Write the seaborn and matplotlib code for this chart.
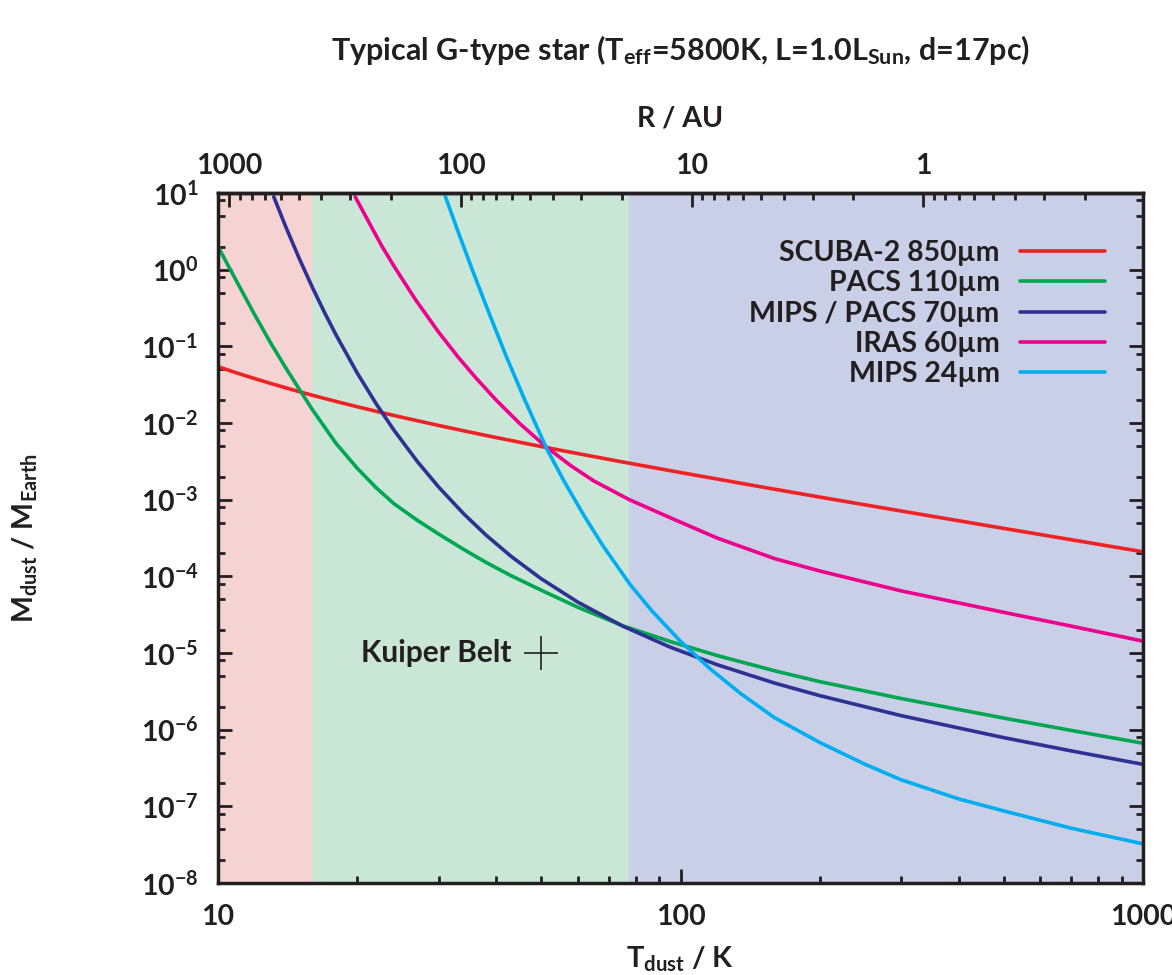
import numpy as np
import matplotlib
matplotlib.use("Agg")
import matplotlib.pyplot as plt
import seaborn as sns
from matplotlib.ticker import (LogLocator, FixedLocator, FuncFormatter,
                               NullFormatter)

# ---------------- data ----------------
SCUBA_T = [10, 11, 12, 13, 14, 15, 16, 18, 20, 22.5, 25, 30, 35, 40, 50, 60,
           75, 100, 150, 200, 300, 500, 700, 1000]
SCUBA_M = [5.43e-2, 4.48e-2, 3.80e-2, 3.28e-2, 2.88e-2, 2.56e-2, 2.30e-2,
           1.91e-2, 1.63e-2, 1.374e-2, 1.186e-2, 9.29e-3, 7.62e-3, 6.45e-3,
           4.93e-3, 3.99e-3, 3.10e-3, 2.26e-3, 1.463e-3, 1.081e-3, 7.11e-4,
           4.22e-4, 3.00e-4, 2.09e-4]

PACS110_T = [10, 11, 12, 13, 14, 15, 16, 18, 20, 22, 24, 27, 30, 34, 38, 43,
             50, 60, 75, 95, 120, 160, 200, 300, 500, 700, 1000]
PACS110_M = [2.0e0, 6.84e-1, 2.588e-1, 1.104e-1, 5.28e-2, 2.735e-2, 1.493e-2,
             5.42e-3, 2.57e-3, 1.422e-3, 8.89e-4, 5.36e-4, 3.56e-4, 2.24e-4,
             1.517e-4, 1.021e-4, 6.59e-5, 3.95e-5, 2.265e-5, 1.413e-5,
             9.27e-6, 5.85e-6, 4.23e-6, 2.547e-6, 1.416e-6, 9.77e-7, 6.65e-7]

MIPS70_T = [13.2, 14, 15, 16, 17, 18, 20, 22, 24, 27, 30, 34, 38, 43, 50, 60,
            75, 95, 120, 160, 200, 300, 500, 700, 1000]
MIPS70_M = [8.93e0, 3.67e0, 1.38e0, 5.86e-1, 2.754e-1, 1.406e-1, 4.49e-2,
            1.765e-2, 8.10e-3, 3.125e-3, 1.46e-3, 6.52e-4, 3.44e-4, 1.827e-4,
            9.29e-5, 4.60e-5, 2.244e-5, 1.192e-5, 7.04e-6, 4.04e-6, 2.78e-6,
            1.524e-6, 7.87e-7, 5.28e-7, 3.53e-7]

IRAS60_T = [19.8, 21, 22.6, 24, 26.7, 30, 33, 36, 40, 45, 51.4, 58, 65, 77.5,
            95, 120, 160, 200, 300, 500, 700, 1000]
IRAS60_M = [8.91e0, 4.61e0, 2.04e0, 1.119e0, 4.11e-1, 1.528e-1, 7.33e-2,
            3.954e-2, 1.972e-2, 9.73e-3, 4.81e-3, 2.76e-3, 1.75e-3, 1.0e-3,
            5.82e-4, 3.16e-4, 1.698e-4, 1.175e-4, 6.46e-5, 3.39e-5, 2.24e-5,
            1.429e-5]

MIPS24_T = [31, 33, 35.6, 38, 42, 46, 51.4, 56, 62, 68, 77.8, 87, 100, 116,
            135, 160, 200, 250, 300, 400, 500, 700, 1000]
MIPS24_M = [9.12e0, 3.20e0, 9.38e-1, 3.38e-1, 7.41e-2, 2.032e-2, 4.59e-3,
            1.746e-3, 6.05e-4, 2.495e-4, 7.83e-5, 3.467e-5, 1.422e-5,
            6.19e-6, 2.95e-6, 1.422e-6, 6.81e-7, 3.56e-7, 2.218e-7, 1.247e-7,
            8.71e-8, 5.18e-8, 3.24e-8]

BAND_NAMES = ["SCUBA-2 850µm", "PACS 110µm", "MIPS / PACS 70µm",
              "IRAS 60µm", "MIPS 24µm"]

REGION_EDGES = [10, 16, 77.5, 1000]          # temperature zones (K)
KUIPER_T = [50]
KUIPER_M = [1e-5]
KUIPER_LABEL = "Kuiper Belt"
T_AT_1AU = 334.5                             # T(R) = T_AT_1AU / sqrt(R/AU)
R_TICKS = [1000, 100, 10, 1]

# ---------------- style ----------------
TXT = "#231f20"
LINE_COLORS = ["#ed2224", "#00a651", "#2e3192", "#ec008c", "#00aeef"]
REGION_COLORS = ["#f5d3d3", "#cae6d6", "#c9cfe7"]

sns.set_style("ticks")
plt.rcParams["font.family"] = ["Lato", "DejaVu Sans"]
plt.rcParams["font.weight"] = "bold"
plt.rcParams["mathtext.default"] = "regular"
plt.rcParams["text.color"] = TXT

W, H = 1172, 975
fig = plt.figure(figsize=(W / 100, H / 100), dpi=100)
L, R, T, B = 218, 1143, 193, 883
ax = fig.add_axes([L / W, 1 - B / H, (R - L) / W, (B - T) / H])
ax.set_xscale("log")
ax.set_yscale("log")

for lo, hi, c in zip(REGION_EDGES[:-1], REGION_EDGES[1:], REGION_COLORS):
    ax.axvspan(lo, hi, color=c, lw=0, zorder=0)

series = [(SCUBA_T, SCUBA_M), (PACS110_T, PACS110_M), (MIPS70_T, MIPS70_M),
          (IRAS60_T, IRAS60_M), (MIPS24_T, MIPS24_M)]
for (tx, my), name, col in zip(series, BAND_NAMES, LINE_COLORS):
    sns.lineplot(x=tx, y=my, color=col, lw=2.6, label=name, ax=ax,
                 estimator=None, sort=False, zorder=3)

ax.plot(KUIPER_T, KUIPER_M, ls="none", marker="+", ms=24, mew=1.2,
        color=TXT, zorder=4)
ax.annotate(KUIPER_LABEL, xy=(KUIPER_T[0], KUIPER_M[0]), xytext=(-30, -9.4),
            textcoords="offset pixels", ha="right", va="baseline",
            fontsize=21.5, color=TXT, fontweight="bold")

ax.set_xlim(10, 1000)
ax.set_ylim(1e-8, 1e1)

fmt_g = FuncFormatter(lambda v, p: f"{v:g}")
ax.xaxis.set_major_locator(LogLocator(base=10))
ax.xaxis.set_major_formatter(fmt_g)
ax.xaxis.set_minor_locator(LogLocator(base=10, subs=np.arange(2, 10)))
ax.xaxis.set_minor_formatter(NullFormatter())
ax.yaxis.set_major_locator(LogLocator(base=10, numticks=20))
ax.yaxis.set_minor_locator(LogLocator(base=10, subs=[2, 5, 8], numticks=20))
ax.yaxis.set_minor_formatter(NullFormatter())

ax.tick_params(which="both", direction="in", top=False, right=True,
               color=TXT, labelcolor=TXT)
ax.tick_params(which="major", length=10, width=2)
ax.tick_params(which="minor", length=5, width=2)
ax.tick_params(axis="x", pad=15, labelsize=20.5)
ax.tick_params(axis="y", pad=14, labelsize=20.5)
for s in ax.spines.values():
    s.set_linewidth(2.5)
    s.set_color(TXT)
    s.set_zorder(5)


def t_to_r(t):
    t = np.asarray(t, dtype=float)
    with np.errstate(divide="ignore", invalid="ignore"):
        return (T_AT_1AU / t) ** 2


def r_to_t(r):
    r = np.asarray(r, dtype=float)
    with np.errstate(divide="ignore", invalid="ignore"):
        return T_AT_1AU / np.sqrt(r)


secax = ax.secondary_xaxis("top", functions=(t_to_r, r_to_t))
secax.xaxis.set_major_locator(FixedLocator(R_TICKS))
secax.xaxis.set_major_formatter(fmt_g)
secax.xaxis.set_minor_locator(LogLocator(base=10, subs=np.arange(2, 10)))
secax.xaxis.set_minor_formatter(NullFormatter())
secax.tick_params(which="both", direction="in", color=TXT, labelcolor=TXT)
secax.tick_params(which="major", length=10, width=2, pad=10.4,
                  labelsize=20.5)
secax.tick_params(which="minor", length=5, width=2)
for s in secax.spines.values():
    s.set_linewidth(2.5)
    s.set_color(TXT)

leg = ax.legend(loc="upper right", bbox_to_anchor=(0.959, 0.9317),
                frameon=False, markerfirst=False, fontsize=20.5,
                handlelength=3.0, handletextpad=0.7, labelspacing=0.15,
                borderpad=0, borderaxespad=0)
for t in leg.get_texts():
    t.set_color(TXT)
for h in leg.get_lines():
    h.set_linewidth(2.6)

cx = (L + R) / 2 / W
fig.text(cx, 1 - 60 / H,
         "Typical G-type star ($T_{eff}$=5800K, L=1.0$L_{Sun}$, d=17pc)",
         ha="center", va="baseline", fontsize=22, color=TXT)
fig.text(cx, 1 - 126.7 / H, "R / AU", ha="center", va="baseline",
         fontsize=20.5, color=TXT)
fig.text(cx, 1 - 968 / H, "$T_{dust}$ / K", ha="center", va="baseline",
         fontsize=21, color=TXT)
fig.text(33 / W, 1 - 538 / H, "$M_{dust}$ / $M_{Earth}$", rotation=90,
         rotation_mode="anchor", ha="center", va="baseline", fontsize=20.5,
         color=TXT)

fig.savefig("out.png", dpi=100)
